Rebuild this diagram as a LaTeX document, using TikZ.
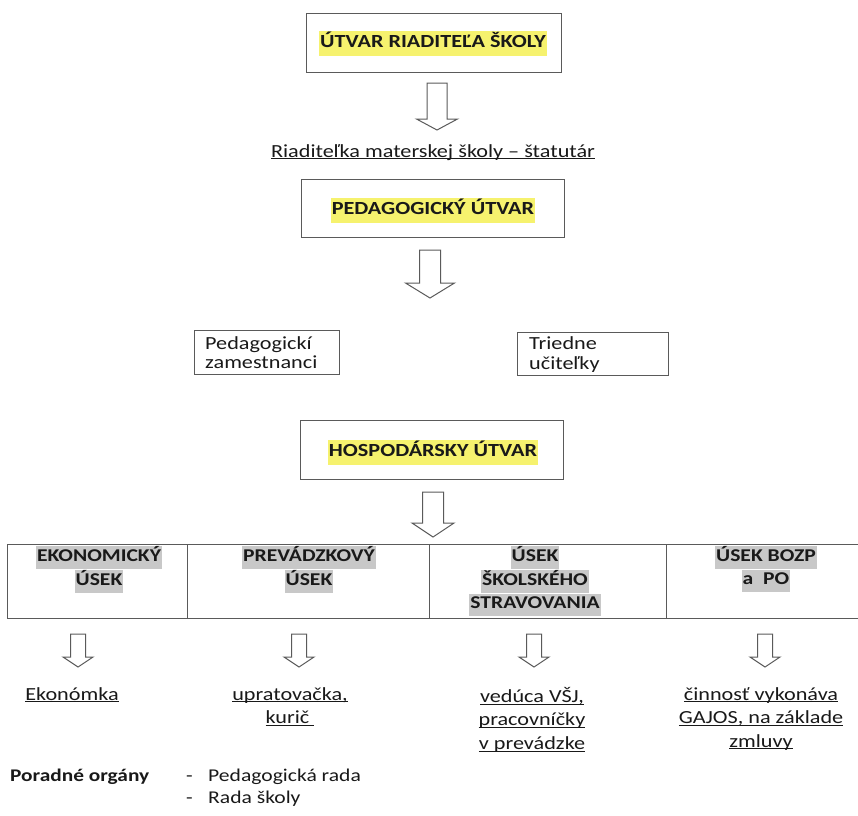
\documentclass[tikz,border=0pt]{standalone}
\usepackage{fontspec}
\setmainfont[FakeStretch=1.2]{Carlito}
\definecolor{hlyel}{RGB}{246,242,110}
\definecolor{hlgrey}{RGB}{200,200,200}
\definecolor{ink}{RGB}{25,25,25}
\definecolor{edge}{RGB}{90,90,90}
\newsavebox{\ulinebox}
\newcommand{\hly}[1]{{\setlength{\fboxsep}{1pt}\colorbox{hlyel}{\strut #1}}}
\newcommand{\hlg}[1]{{\setlength{\fboxsep}{1pt}\colorbox{hlgrey}{\strut #1}}}
\newcommand{\uln}[1]{\sbox{\ulinebox}{#1}\rlap{\color{ink}\rule[-2.3pt]{\wd\ulinebox}{1.1pt}}\usebox{\ulinebox}}
\newcommand{\blockarrowat}[6]{% x, ytop, yheadstart, ytip, half shaft, half head
  \draw[arrowline] (#1-#5,#2) -- (#1+#5,#2) -- (#1+#5,#3) -- (#1+#6,#3) -- (#1,#4)
    -- (#1-#6,#3) -- (#1-#5,#3) -- cycle;}
\begin{document}
\begin{tikzpicture}[x=1pt,y=-1pt,
  every node/.style={text=ink},
  frame/.style={draw=edge,line width=0.9pt,fill=none},
  arrowline/.style={draw=edge,line width=1pt,fill=white,line join=miter},
  head/.style={font=\fontsize{18.5}{23}\selectfont\bfseries,inner sep=0pt},
  col/.style={font=\fontsize{18}{20}\selectfont\bfseries,align=center,inner sep=0pt},
  staff/.style={align=center,inner sep=0pt,font=\fontsize{18.5}{23.5}\selectfont},
  boxtext/.style={align=left,inner sep=0pt,anchor=north west,font=\fontsize{18.5}{19.5}\selectfont},
  note/.style={inner sep=0pt,anchor=base west,font=\fontsize{18}{22}\selectfont}]
\useasboundingbox (0,0) rectangle (858,815);

% top unit
\draw[frame] (306,13) rectangle (561,72);
\node[head] (utvar) at (433,43) {\hly{ÚTVAR RIADITEĽA ŠKOLY}};
\blockarrowat{437}{83}{119}{130}{10}{20.5}
\node[staff,anchor=base] (stat) at (433,157) {\uln{Riaditeľka materskej školy – štatutár}};

% pedagogical unit
\draw[frame] (301,179) rectangle (564,237);
\node[head] (ped) at (433,210) {\hly{PEDAGOGICKÝ ÚTVAR}};
\blockarrowat{430}{250}{283}{298}{10.5}{24.5}

\draw[frame] (194,330) rectangle (339,374);
\node[boxtext] (pz) at (205,336) {Pedagogickí\\zamestnanci};
\draw[frame] (517,332) rectangle (668,375);
\node[boxtext] (tu) at (529,336.5) {Triedne\\učiteľky};

% economic unit
\draw[frame] (300,420) rectangle (563,479);
\node[head] (hosp) at (433,452) {\hly{HOSPODÁRSKY ÚTVAR}};
\blockarrowat{433}{492}{523}{537}{10.5}{21}

% row of sections
\draw[frame] (858,544) -- (7,544) -- (7,618) -- (858,618);
\draw[frame] (187,544) -- (187,618);
\draw[frame] (429,544) -- (429,618);
\draw[frame] (666,544) -- (666,618);

\node[col,anchor=north] (eko) at (99,545.5) {\hlg{EKONOMICKÝ}\\\hlg{ÚSEK}};
\node[col,anchor=north] (prev) at (309,545.5) {\hlg{PREVÁDZKOVÝ}\\\hlg{ÚSEK}};
\node[col,anchor=north] (skol) at (535,545.5) {\hlg{ÚSEK}\\\hlg{ŠKOLSKÉHO}\\\hlg{STRAVOVANIA}};
\node[col,anchor=north] (bozp) at (766,545.5) {\hlg{ÚSEK BOZP}\\\hlg{a\ \ PO}};

\blockarrowat{78}{634}{657}{667}{7.5}{15}
\blockarrowat{299}{634}{657}{667}{7.5}{15}
\blockarrowat{534}{634}{657}{667}{7.5}{15}
\blockarrowat{765}{634}{657}{667}{7.5}{15}

\node[staff,anchor=north] (ekon) at (72,687) {\uln{Ekonómka}};
\node[staff,anchor=north] (upr) at (290,687) {\uln{upratovačka,}\\\uln{kurič\ }};
\node[staff,anchor=north] (ved) at (532,687) {\uln{vedúca VŠJ,}\\\uln{pracovníčky}\\\uln{v prevádzke}};
\node[staff,anchor=north] (cin) at (761,687) {\uln{činnosť vykonáva}\\\uln{GAJOS, na základe}\\\uln{zmluvy}};

% advisory bodies
\node[note,font=\fontsize{17.8}{22}\selectfont\bfseries] (por) at (10,781) {Poradné orgány};
\node[note] (d1) at (186,781) {-};
\node[note] (pr) at (208,781) {Pedagogická rada};
\node[note] (d2) at (186,803) {-};
\node[note] (rs) at (208,803) {Rada školy};
\end{tikzpicture}
\end{document}
